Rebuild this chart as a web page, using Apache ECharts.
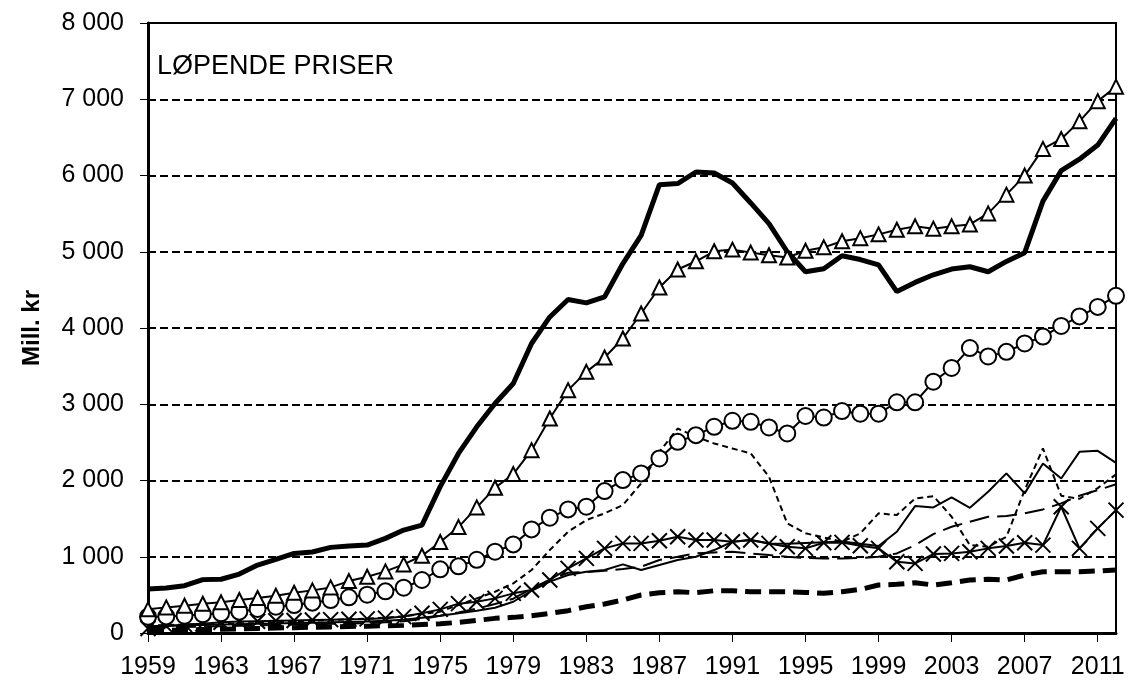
<!DOCTYPE html>
<html>
<head>
<meta charset="utf-8">
<script src="https://cdn.jsdelivr.net/npm/echarts@6/dist/echarts.min.js"></script>
<style>
html,body{margin:0;padding:0;background:#fff;}
#chart{width:1129px;height:680px;}
</style>
</head>
<body>
<div id="chart"></div>
<script>
var years = [];
for (var y = 1959; y <= 2012; y++) years.push(String(y));

var seriesThick = [577,590,620,700,705,773,891,966,1044,1062,1123,1140,1153,1241,1350,1415,
  1920,2355,2704,3010,3272,3797,4145,4373,4329,4408,4845,5216,5880,5894,6046,6033,5902,5640,5370,5000,
  4738,4778,4948,4898,4828,4478,4598,4698,4773,4803,4738,4873,4988,5664,6064,6214,6399,6750];
var seriesTriangle = [310,336,358,384,402,432,459,489,528,559,598,681,738,808,900,1013,
  1193,1389,1647,1904,2084,2398,2813,3185,3425,3613,3862,4190,4531,4767,4875,5006,5028,4989,4954,4924,
  5013,5058,5138,5178,5228,5288,5333,5303,5333,5358,5503,5749,5999,6349,6479,6710,6975,7165];
var seriesCircle = [214,218,227,245,258,280,315,345,367,398,432,468,502,546,594,695,
  835,874,960,1066,1162,1359,1512,1621,1656,1861,2005,2093,2289,2507,2595,2704,2783,2770,2696,2617,
  2846,2826,2911,2876,2876,3026,3026,3296,3476,3737,3627,3687,3797,3887,4027,4152,4277,4422];
var seriesShortDash = [100,105,110,115,120,125,130,140,150,160,170,180,190,200,220,250,
  280,367,454,541,651,826,1088,1328,1481,1569,1678,1962,2376,2682,2573,2486,2420,2355,2049,1438,
  1307,1254,1197,1307,1569,1547,1765,1795,1525,1153,1131,1262,1874,2420,1800,1760,1900,2080];
var seriesLongDash = [70,75,80,85,90,95,100,105,110,115,120,125,130,140,155,185,
  225,270,320,380,450,580,700,790,800,815,840,869,957,1000,1044,1057,1066,1044,1022,1000,
  983,978,978,983,1000,1044,1153,1297,1393,1459,1525,1534,1569,1621,1700,1800,1874,1950];
var seriesThin = [90,95,100,105,110,115,120,125,130,135,140,145,150,160,175,200,
  225,258,293,332,410,554,673,760,804,826,900,826,891,957,1000,1088,1197,1219,1175,1170,
  1180,1190,1200,1170,1140,1328,1664,1647,1778,1642,1852,2093,1831,2224,2027,2376,2389,2232];
var seriesCross = [60,90,110,120,140,150,155,160,165,170,175,180,185,195,215,258,
  310,385,410,454,520,564,695,848,979,1110,1175,1175,1210,1262,1219,1219,1197,1219,1175,1131,
  1110,1184,1188,1144,1110,935,913,1035,1044,1066,1110,1140,1184,1153,1656,1110,1372,1612];
var seriesThickDash = [30,35,40,45,50,55,60,65,70,75,80,85,90,95,100,110,
  120,140,165,192,205,225,258,293,345,380,432,498,528,541,528,554,554,541,541,541,
  532,520,541,572,629,638,660,629,660,695,704,695,760,804,804,804,813,826];

var FONT = "'Liberation Sans', Arial, sans-serif";

function fmt(v){ return String(v).replace(/\B(?=(\d{3})+(?!\d))/g, ' '); }

function line(data, opt){
  var s = {
    type: 'line', data: data, animation: false, silent: true,
    showSymbol: false, symbol: 'none',
    lineStyle: { color: '#000', width: 2, type: 'solid' }
  };
  for (var k in opt) s[k] = opt[k];
  return s;
}

var chart = echarts.init(document.getElementById('chart'));
chart.setOption({
  animation: false,
  backgroundColor: '#fff',
  grid: { left: 148, right: 13, top: 23, bottom: 47, show: true, borderColor: '#000', borderWidth: 2, backgroundColor: 'transparent' },
  xAxis: {
    type: 'category', data: years, boundaryGap: false,
    axisLine: { lineStyle: { color: '#000', width: 3 } },
    axisTick: { show: true, interval: 3, length: 9, lineStyle: { color: '#000', width: 1 } },
    axisLabel: { interval: 3, margin: 22, color: '#000', fontSize: 25, fontFamily: FONT },
    splitLine: { show: false }
  },
  yAxis: {
    type: 'value', min: 0, max: 8000, interval: 1000,
    name: 'Mill. kr', nameLocation: 'middle', nameGap: 104,
    nameTextStyle: { color: '#000', fontSize: 24, fontWeight: 'bold', fontFamily: FONT },
    axisLine: { show: true, lineStyle: { color: '#000', width: 3 } },
    axisTick: { show: true, length: 8, lineStyle: { color: '#000', width: 1 } },
    axisLabel: { margin: 24, color: '#000', fontSize: 25, fontFamily: FONT, formatter: fmt },
    splitLine: { show: true, lineStyle: { color: '#000', width: 2, type: [8, 4] } }
  },
  graphic: [{
    type: 'text', left: 157, top: 53,
    style: { text: 'LØPENDE PRISER', fill: '#000', fontSize: 27, fontFamily: FONT }
  }],
  series: [
    line(seriesThickDash, { lineStyle: { color: '#000', width: 5, type: [16, 8] } }),
    line(seriesLongDash, { lineStyle: { color: '#000', width: 2, type: [20, 8] } }),
    line(seriesShortDash, { lineStyle: { color: '#000', width: 2, type: [6, 4] } }),
    line(seriesThin, { lineStyle: { color: '#000', width: 2 } }),
    line(seriesCross, {
      showSymbol: true, showAllSymbol: true,
      symbol: 'path://M0,0L10,10M10,0L0,10', symbolSize: 15,
      itemStyle: { color: 'none', borderColor: '#000', borderWidth: 2 },
      lineStyle: { color: '#000', width: 2 }
    }),
    line(seriesCircle, {
      showSymbol: true, showAllSymbol: true,
      symbol: 'circle', symbolSize: 16,
      itemStyle: { color: '#fff', borderColor: '#000', borderWidth: 2 },
      lineStyle: { color: '#000', width: 2 }
    }),
    line(seriesTriangle, {
      showSymbol: true, showAllSymbol: true,
      symbol: 'triangle', symbolSize: 14,
      itemStyle: { color: '#fff', borderColor: '#000', borderWidth: 2 },
      lineStyle: { color: '#000', width: 2 }
    }),
    line(seriesThick, { lineStyle: { color: '#000', width: 5 } })
  ]
});
</script>
</body>
</html>
